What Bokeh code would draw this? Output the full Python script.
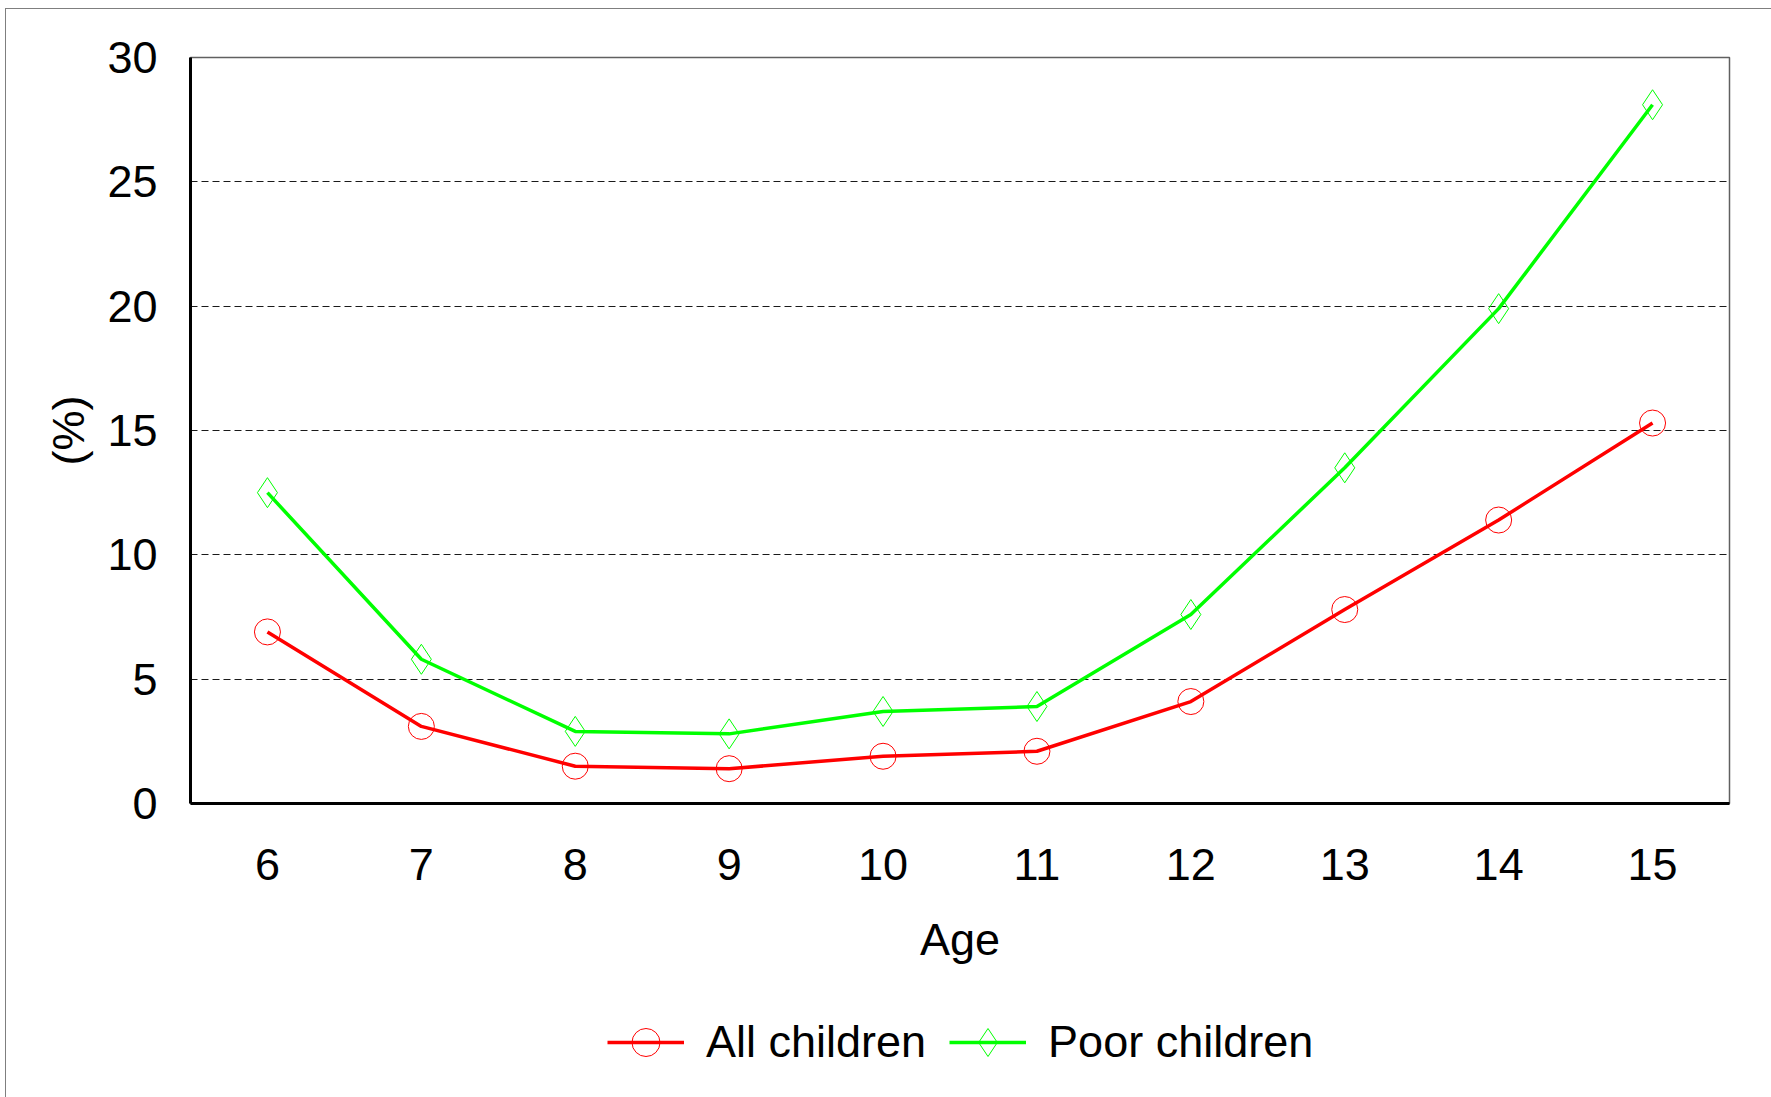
from bokeh.plotting import figure
from bokeh.layouts import column
from bokeh.models import Range1d, FactorRange, Legend, LegendItem, FixedTicker
from bokeh.embed import file_html
from bokeh.resources import INLINE

# ---- data ----
ages = ["6", "7", "8", "9", "10", "11", "12", "13", "14", "15"]
all_children = [6.9, 3.1, 1.5, 1.4, 1.9, 2.1, 4.1, 7.8, 11.4, 15.3]
poor_children = [12.5, 5.8, 2.9, 2.8, 3.7, 3.9, 7.6, 13.5, 19.9, 28.1]
y_ticks = [0, 5, 10, 15, 20, 25, 30]

FONT = "Liberation Sans"
FS = "45px"
RED = "#FF0000"
GREEN = "#00FF00"

H_MAIN = 980
H_LEG = 108

p = figure(width=1765, height=H_MAIN,
           x_range=FactorRange(*ages), y_range=Range1d(0, 30),
           output_backend="svg", toolbar_location=None,
           min_border_left=184, min_border_top=48,
           min_border_right=42, min_border_bottom=H_MAIN - 794)

p.outline_line_color = "#606060"
p.outline_line_width = 1.5
p.background_fill_color = "white"
p.border_fill_color = "white"

# grid
p.xgrid.visible = False
p.ygrid.ticker = FixedTicker(ticks=y_ticks)
p.ygrid.grid_line_color = "#1a1a1a"
p.ygrid.grid_line_dash = "7 4"
p.ygrid.grid_line_width = 1

# axes
p.yaxis.ticker = FixedTicker(ticks=y_ticks)
for ax in (p.xaxis[0], p.yaxis[0]):
    ax.axis_line_color = "black"
    ax.axis_line_width = 3
    ax.major_tick_in = 0
    ax.major_tick_out = 0
    ax.minor_tick_in = 0
    ax.minor_tick_out = 0
    ax.major_label_text_font = FONT
    ax.major_label_text_font_size = FS
    ax.major_label_text_color = "black"
    ax.axis_label_text_font = FONT
    ax.axis_label_text_font_size = FS
    ax.axis_label_text_font_style = "normal"
    ax.axis_label_text_color = "black"

p.xaxis.axis_label = "Age"
p.xaxis.major_label_standoff = 45
p.xaxis.axis_label_standoff = 31
p.yaxis.axis_label = "(%)"
p.yaxis.major_label_standoff = 33
p.yaxis.axis_label_standoff = 10

# series
def draw(fig, vals, color, marker, size, visible=True):
    ln = fig.line(ages, vals, line_color=color, line_width=3.5, visible=visible)
    sc = fig.scatter(ages, vals, marker=marker, size=size, fill_color=None,
                     line_color=color, line_width=1, visible=visible)
    return ln, sc

draw(p, all_children, RED, "circle", 26)
draw(p, poor_children, GREEN, "diamond", 30)

# legend strip below the chart
pl = figure(width=1765, height=H_LEG,
            x_range=FactorRange(*ages), y_range=Range1d(0, 30),
            output_backend="svg", toolbar_location=None,
            x_axis_location=None, y_axis_location=None,
            min_border=0, min_border_left=0, min_border_right=0,
            min_border_top=0, min_border_bottom=0)
pl.outline_line_color = None
pl.xgrid.visible = False
pl.ygrid.visible = False
pl.background_fill_color = "white"
pl.border_fill_color = "white"

l1 = draw(pl, all_children, RED, "circle", 26, visible=False)
l2 = draw(pl, poor_children, GREEN, "diamond", 30, visible=False)

legend = Legend(items=[LegendItem(label="All children", renderers=list(l1)),
                       LegendItem(label="Poor children", renderers=list(l2))],
                location=(417, 20), orientation="horizontal",
                glyph_width=77, glyph_height=70, label_standoff=22, spacing=23,
                padding=0, margin=0, border_line_color=None,
                background_fill_alpha=0, inactive_fill_alpha=0,
                label_text_font=FONT, label_text_font_size=FS,
                label_text_color="black")
pl.add_layout(legend, "center")

page = column(p, pl, spacing=0)
page.styles = {"margin-left": "5px", "margin-top": "8px",
               "border-left": "1px solid #7f7f7f",
               "border-top": "1px solid #7f7f7f"}

open("out.html", "w").write(file_html(page, INLINE))
